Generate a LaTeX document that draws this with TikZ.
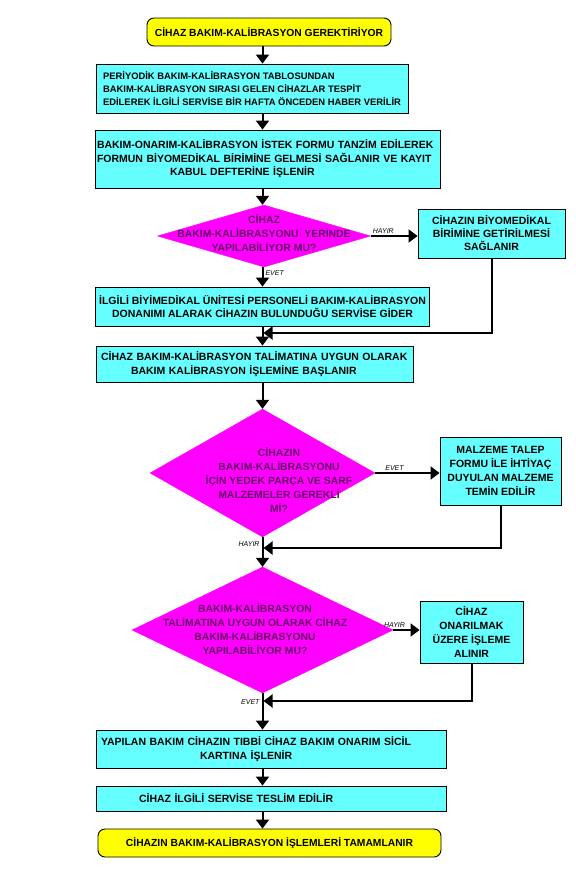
\documentclass[tikz,border=0pt]{standalone}
\usepackage{fontspec}
\setmainfont{Liberation Sans}
\usetikzlibrary{shapes.geometric,arrows.meta}
\definecolor{turkuaz}{RGB}{102,255,255}
\definecolor{pembe}{RGB}{255,0,255}
\definecolor{sari}{RGB}{255,255,0}
\definecolor{mor}{RGB}{102,0,102}

\begin{document}
\begin{tikzpicture}[x=1pt,y=-1pt,
  kutu/.style={draw=black,line width=0.9pt,fill=turkuaz,inner ysep=0pt,
    font=\bfseries\fontsize{10.5}{13.5}\selectfont},
  ucnokta/.style={draw=black,line width=0.9pt,fill=sari,rounded corners=7pt,
    inner sep=0pt,font=\bfseries\fontsize{10.3}{12}\selectfont},
  karar/.style={diamond,fill=pembe,draw=pembe,inner sep=0pt},
  kararyazi/.style={text=mor,align=center,inner sep=0pt,
    font=\bfseries\fontsize{10.4}{14}\selectfont},
  ok/.style={line width=2pt,-{Triangle[width=13pt,length=9pt]}},
  etiket/.style={font=\itshape\fontsize{7}{8}\selectfont,inner sep=2pt}]
\useasboundingbox[fill=white] (0,0) rectangle (576,887);
\coordinate (omurga) at (262.5,0);

\node[ucnokta,minimum width=244pt,minimum height=28pt] (basla) at (269,32)
  {CİHAZ BAKIM-KALİBRASYON GEREKTİRİYOR};
\node[kutu,minimum width=312pt,minimum height=49pt,align=left,
  font=\bfseries\fontsize{9.4}{13}\selectfont] (k1) at (252,88.5)
  {PERİYODİK BAKIM-KALİBRASYON TABLOSUNDAN\\
   BAKIM-KALİBRASYON SIRASI GELEN CİHAZLAR TESPİT\\
   EDİLEREK İLGİLİ SERVİSE BİR HAFTA ÖNCEDEN HABER VERİLİR};
\node[kutu,inner xsep=2pt,text width=341pt,minimum height=58pt,align=left] (k2) at (267.5,159)
  {BAKIM-ONARIM-KALİBRASYON İSTEK FORMU TANZİM EDİLEREK\\
   FORMUN BİYOMEDİKAL BİRİMİNE GELMESİ SAĞLANIR VE KAYIT\\
   \hspace*{73pt}KABUL DEFTERİNE İŞLENİR};
\node[karar,minimum width=213pt,minimum height=62pt] (d1) at (264,236) {};
\node[kararyazi] (d1y) at (264,233)
  {CİHAZ\\ BAKIM-KALİBRASYONU\ \ YERİNDE\\ YAPILABİLİYOR MU?};
\node[kutu,minimum width=147pt,minimum height=49pt,align=center,
  font=\bfseries\fontsize{10.5}{13}\selectfont] (r1) at (491.5,233.5)
  {CİHAZIN BİYOMEDİKAL\\ BİRİMİNE GETİRİLMESİ\\ SAĞLANIR};
\node[kutu,minimum width=331pt,minimum height=39pt,align=center] (k3) at (262.5,306.5)
  {İLGİLİ BİYİMEDİKAL ÜNİTESİ PERSONELİ BAKIM-KALİBRASYON\\
   DONANIMI ALARAK CİHAZIN BULUNDUĞU SERVİSE GİDER};
\node[kutu,inner xsep=5pt,text width=307pt,minimum height=36pt,align=left] (k4) at (254.5,364)
  {CİHAZ BAKIM-KALİBRASYON TALİMATINA UYGUN OLARAK\\
   \hspace*{30pt}BAKIM KALİBRASYON İŞLEMİNE BAŞLANIR};
\node[karar,minimum width=225pt,minimum height=128pt] (d2) at (262.5,473) {};
\node[kararyazi] (d2y) at (279,480)
  {CİHAZIN\\ BAKIM-KALİBRASYONU\\ İÇİN YEDEK PARÇA VE SARF\\ MALZEMELER GEREKLİ\\ Mİ?};
\node[kutu,minimum width=121pt,minimum height=68pt,align=center,
  font=\bfseries\fontsize{10.5}{14}\selectfont] (r2) at (500.5,471)
  {MALZEME TALEP\\ FORMU İLE İHTİYAÇ\\ DUYULAN MALZEME\\ TEMİN EDİLİR};
\node[karar,minimum width=261pt,minimum height=126pt] (d3) at (262.5,630) {};
\node[kararyazi] (d3y) at (255,629)
  {BAKIM-KALİBRASYON\\ TALİMATINA UYGUN OLARAK CİHAZ\\ BAKIM-KALİBRASYONU\\ YAPILABİLİYOR MU?};
\node[kutu,minimum width=103pt,minimum height=62pt,align=center,
  font=\bfseries\fontsize{10.5}{14}\selectfont] (r3) at (471.5,632)
  {CİHAZ\\ ONARILMAK\\ ÜZERE İŞLEME\\ ALINIR};
\node[kutu,inner xsep=5pt,text width=340pt,minimum height=38pt,align=left] (k5) at (271,749)
  {YAPILAN BAKIM CİHAZIN TIBBİ CİHAZ BAKIM ONARIM SİCİL\\
   \hspace*{99pt}KARTINA İŞLENİR};
\node[kutu,inner xsep=5pt,text width=340pt,minimum height=25pt,align=left] (k6) at (271,798.5)
  {\hspace*{38pt}CİHAZ İLGİLİ SERVİSE TESLİM EDİLİR};
\node[ucnokta,minimum width=343pt,minimum height=28pt] (bitis) at (269.5,843)
  {CİHAZIN BAKIM-KALİBRASYON İŞLEMLERİ TAMAMLANIR};

\coordinate (b1) at (262.5,333);
\coordinate (b2) at (262.5,548);
\coordinate (b3) at (262.5,701);

\draw[ok] (basla.south -| omurga) -- (k1.north -| omurga);
\draw[ok] (k1.south -| omurga) -- (k2.north -| omurga);
\draw[ok] (k2.south -| omurga) -- (d1.north -| omurga);
\draw[ok] (d1.south -| omurga) -- node[etiket,right,pos=0.3] {EVET} (k3.north -| omurga);
\draw[ok] (d1.east) -- node[etiket,above,pos=0.27] {HAYIR} (d1.east -| r1.west);
\draw[ok,shorten >=1pt] (r1.south) |- (b1);
\draw[ok] (k3.south -| omurga) -- (k4.north -| omurga);
\draw[ok] (k4.south -| omurga) -- (d2.north -| omurga);
\draw[ok] (d2.east) -- node[etiket,above,pos=0.3] {EVET} (d2.east -| r2.west);
\draw[ok,shorten >=1pt] (r2.south) |- (b2);
\draw[ok] (d2.south -| omurga) -- node[etiket,left,pos=0.23] {HAYIR} (d3.north -| omurga);
\draw[ok] (d3.east) -- node[etiket,above,pos=0.05] {HAYIR} (d3.east -| r3.west);
\draw[ok,shorten >=1pt] (r3.south) |- (b3);
\draw[ok] (d3.south -| omurga) -- node[etiket,left,pos=0.24] {EVET} (k5.north -| omurga);
\draw[ok] (k5.south -| omurga) -- (k6.north -| omurga);
\draw[ok] (k6.south -| omurga) -- (bitis.north -| omurga);
\end{tikzpicture}
\end{document}
